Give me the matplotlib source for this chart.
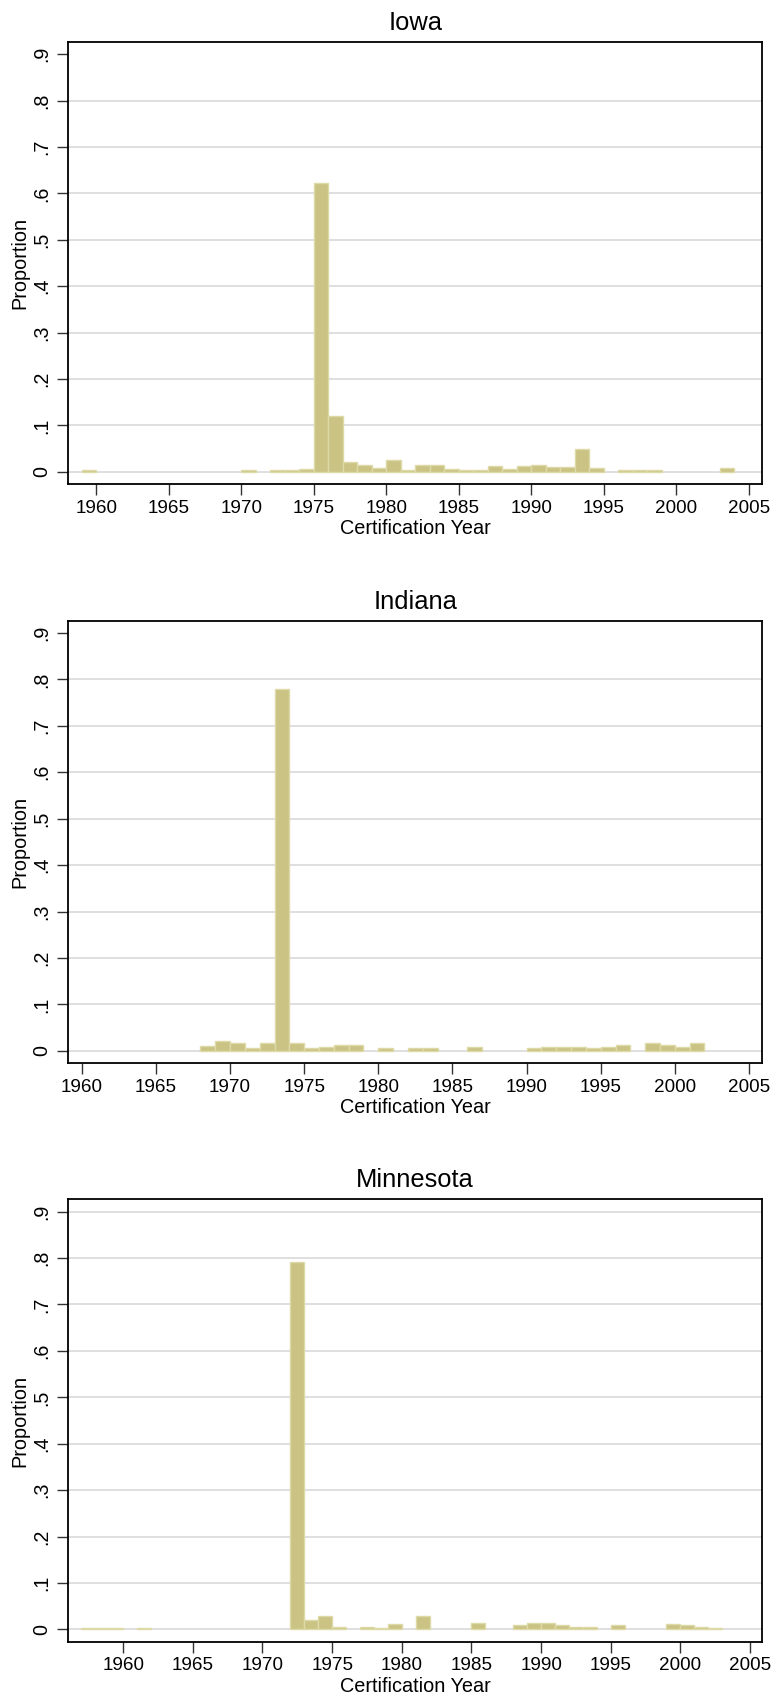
import matplotlib
matplotlib.use("Agg")
import matplotlib.pyplot as plt

plt.rcParams["font.family"] = ["Liberation Sans", "DejaVu Sans"]

# Share of certifications by year (bars span [year, year + 1])
iowa_years = [1959, 1970, 1972, 1973, 1974, 1975, 1976, 1977, 1978, 1979,
              1980, 1981, 1982, 1983, 1984, 1985, 1986, 1987, 1988, 1989,
              1990, 1991, 1992, 1993, 1994, 1996, 1997, 1998, 2003]
iowa_props = [0.004, 0.004, 0.004, 0.004, 0.006, 0.623, 0.121, 0.020, 0.014, 0.009,
              0.025, 0.004, 0.014, 0.014, 0.006, 0.004, 0.004, 0.012, 0.006, 0.012,
              0.014, 0.011, 0.011, 0.050, 0.009, 0.004, 0.004, 0.004, 0.009]

indiana_years = [1968, 1969, 1970, 1971, 1972, 1973, 1974, 1975, 1976, 1977,
                 1978, 1980, 1982, 1983, 1986, 1990, 1991, 1992, 1993, 1994,
                 1995, 1996, 1998, 1999, 2000, 2001]
indiana_props = [0.011, 0.020, 0.016, 0.005, 0.016, 0.780, 0.016, 0.005, 0.009, 0.012,
                 0.012, 0.005, 0.005, 0.005, 0.009, 0.005, 0.008, 0.008, 0.008, 0.005,
                 0.008, 0.012, 0.016, 0.012, 0.008, 0.016]

minnesota_years = [1957, 1958, 1959, 1961, 1972, 1973, 1974, 1975, 1977, 1978,
                   1979, 1981, 1985, 1988, 1989, 1990, 1991, 1992, 1993, 1995,
                   1999, 2000, 2001, 2002]
minnesota_props = [0.004, 0.004, 0.004, 0.004, 0.791, 0.021, 0.029, 0.006, 0.006, 0.003,
                   0.011, 0.029, 0.014, 0.009, 0.014, 0.014, 0.010, 0.006, 0.006, 0.009,
                   0.011, 0.009, 0.006, 0.004]

y_ticks = [0, 0.1, 0.2, 0.3, 0.4, 0.5, 0.6, 0.7, 0.8, 0.9]
y_tick_labels = ["0", ".1", ".2", ".3", ".4", ".5", ".6", ".7", ".8", ".9"]
x_ticks = [1960, 1965, 1970, 1975, 1980, 1985, 1990, 1995, 2000, 2005]

BAR_FILL = "#cbc384"
BAR_EDGE = "#dedaa8"
GRID = "#dcdcdc"

W, H = 777, 1697
fig = plt.figure(figsize=(W / 100, H / 100), dpi=100)
fig.patch.set_facecolor("white")

# (title, years, props, x-range, top px, bottom px, grid at .9)
panels = [
    ("Iowa", iowa_years, iowa_props, (1958.07, 2005.9), 42.0, 484.3, False),
    ("Indiana", indiana_years, indiana_props, (1959.09, 2005.88), 620.7, 1063.3, False),
    ("Minnesota", minnesota_years, minnesota_props, (1956.06, 2005.86), 1199.3, 1642.0, True),
]

left_px, right_px = 68.3, 762.0
for title, years, props, xr, top, bot, top_grid in panels:
    ax = fig.add_axes([left_px / W, 1 - bot / H, (right_px - left_px) / W, (bot - top) / H])
    ax.set_xlim(*xr)
    ax.set_ylim(-0.027, 0.9265)

    grid_vals = y_ticks if top_grid else y_ticks[:-1]
    ax.hlines(grid_vals, xr[0], xr[1], colors=GRID, linewidth=1.3, zorder=0)

    ax.bar(years, props, width=1.0, align="edge", color=BAR_FILL,
           edgecolor=BAR_EDGE, linewidth=1.0, zorder=2)

    ax.set_yticks(y_ticks)
    ax.set_yticklabels(y_tick_labels, rotation=90, va="center")
    ax.set_xticks(x_ticks)
    ax.set_xticklabels([str(t) for t in x_ticks])

    ax.tick_params(axis="both", direction="out", length=8, width=1.0,
                   color="#333333", labelcolor="black")
    ax.tick_params(axis="x", labelsize=13.6, pad=3)
    ax.tick_params(axis="y", labelsize=14.2, pad=4)

    for sp in ax.spines.values():
        sp.set_linewidth(1.3)
        sp.set_color("black")

    ax.set_ylabel("Proportion", fontsize=14.3, labelpad=2)
    ax.set_xlabel("Certification Year", fontsize=14.3, labelpad=2)
    ax.set_title(title, fontsize=18.4, pad=8.5)

fig.savefig("out.png", dpi=100, facecolor="white")
